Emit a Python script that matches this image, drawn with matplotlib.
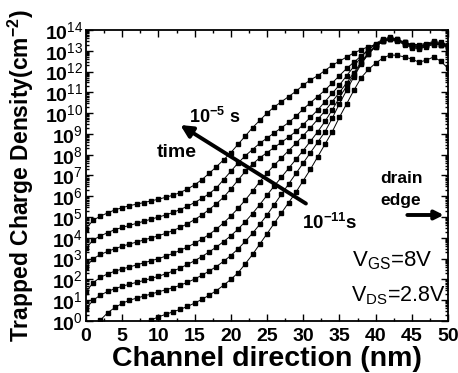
import numpy as np
import matplotlib
matplotlib.use("Agg")
import matplotlib.pyplot as plt
from matplotlib.ticker import FixedLocator, LogLocator, FuncFormatter, MultipleLocator, NullFormatter

plt.rcParams['font.family'] = ['Liberation Sans', 'DejaVu Sans']
plt.rcParams['mathtext.fontset'] = 'custom'
plt.rcParams['mathtext.rm'] = 'Liberation Sans'
plt.rcParams['mathtext.bf'] = 'Liberation Sans:bold'
plt.rcParams['mathtext.it'] = 'Liberation Sans:italic'

# log10 of trapped charge density, one point per nm along the channel
# each curve is one stress time, 1e-5 s (top) down to 1e-11 s
start_1e5 = 0
dens_1e5 = [4.45, 4.85, 5.05, 5.2, 5.35, 5.45, 5.55, 5.62, 5.7, 5.78,
            5.86, 5.95, 6.05, 6.18, 6.35, 6.55, 6.8, 7.1, 7.42, 7.75,
            8.1, 8.5, 8.9, 9.3, 9.65, 10.0, 10.3, 10.55, 10.8, 11.05,
            11.35, 11.6, 11.8, 12.05, 12.3, 12.5, 12.7, 12.9, 13.05, 13.2,
            13.3, 13.45, 13.55, 13.5, 13.35, 13.25, 13.2, 13.3, 13.35, 13.3, 13.2]

start_1e6 = 0
dens_1e6 = [3.5, 3.9, 4.1, 4.25, 4.4, 4.5, 4.6, 4.7, 4.8, 4.9,
            5.0, 5.1, 5.22, 5.36, 5.52, 5.7, 5.9, 6.12, 6.4, 6.8,
            7.2, 7.6, 7.95, 8.25, 8.55, 8.8, 9.05, 9.3, 9.55, 9.85,
            10.2, 10.5, 10.8, 11.1, 11.45, 11.8, 12.15, 12.45, 12.75, 13.05,
            13.3, 13.5, 13.6, 13.55, 13.4, 13.3, 13.25, 13.3, 13.4, 13.35, 13.25]

start_1e7 = 0
dens_1e7 = [2.6, 3.0, 3.2, 3.35, 3.48, 3.6, 3.7, 3.8, 3.9, 4.0,
            4.1, 4.22, 4.35, 4.5, 4.68, 4.88, 5.1, 5.36, 5.64, 5.95,
            6.35, 6.78, 7.2, 7.55, 7.85, 8.1, 8.35, 8.6, 8.85, 9.12,
            9.45, 9.8, 10.15, 10.55, 10.95, 11.35, 11.8, 12.25, 12.7, 13.05,
            13.35, 13.55, 13.65, 13.55, 13.4, 13.3, 13.3, 13.35, 13.45, 13.4, 13.3]

start_1e8 = 0
dens_1e8 = [1.4, 1.85, 2.1, 2.27, 2.4, 2.5, 2.6, 2.7, 2.8, 2.9,
            3.0, 3.12, 3.25, 3.4, 3.56, 3.74, 3.94, 4.16, 4.42, 4.72,
            5.05, 5.42, 5.82, 6.25, 6.7, 7.12, 7.5, 7.85, 8.2, 8.55,
            8.92, 9.3, 9.7, 10.1, 10.55, 11.0, 11.45, 11.95, 12.45, 12.9,
            13.25, 13.5, 13.6, 13.5, 13.4, 13.25, 13.2, 13.3, 13.4, 13.35, 13.25]

start_1e9 = 0
dens_1e9 = [0.6, 1.0, 1.25, 1.42, 1.56, 1.67, 1.77, 1.86, 1.95, 2.05,
            2.15, 2.27, 2.4, 2.55, 2.72, 2.9, 3.1, 3.32, 3.56, 3.82,
            4.1, 4.42, 4.78, 5.17, 5.6, 6.05, 6.5, 6.92, 7.35, 7.78,
            8.2, 8.65, 9.1, 9.6, 10.15, 10.75, 11.3, 11.85, 12.4, 12.85,
            13.2, 13.45, 13.55, 13.5, 13.35, 13.2, 13.15, 13.25, 13.35, 13.3, 13.2]

start_1e10 = 2
dens_1e10 = [0.05, 0.4, 0.65, 0.85, 1.0, 1.1, 1.2, 1.3,
             1.4, 1.5, 1.6, 1.72, 1.86, 2.02, 2.2, 2.4, 2.62, 2.87,
             3.15, 3.47, 3.83, 4.22, 4.65, 5.1, 5.6, 6.1, 6.6, 7.1,
             7.6, 8.1, 8.6, 9.1, 9.75, 10.45, 11.1, 11.75, 12.35, 12.85,
             13.2, 13.45, 13.55, 13.45, 13.3, 13.15, 13.1, 13.2, 13.3, 13.3, 13.15]

start_1e11 = 9
dens_1e11 = [0.05,
             0.2, 0.32, 0.44, 0.56, 0.7, 0.86, 1.04, 1.24, 1.46, 1.72,
             2.0, 2.32, 2.75, 3.2, 3.7, 4.2, 4.7, 5.2, 5.7, 6.2,
             6.75, 7.3, 7.9, 8.5, 9.1, 9.8, 10.45, 11.1, 11.7, 12.1,
             12.4, 12.65, 12.8, 12.78, 12.7, 12.6, 12.45, 12.55, 12.7, 12.5, 12.15]

curves = [(start_1e5, dens_1e5), (start_1e6, dens_1e6), (start_1e7, dens_1e7),
          (start_1e8, dens_1e8), (start_1e9, dens_1e9), (start_1e10, dens_1e10),
          (start_1e11, dens_1e11)]

x_ticks = [0, 5, 10, 15, 20, 25, 30, 35, 40, 45, 50]
y_decades = list(range(0, 15))

fig = plt.figure(figsize=(4.58, 3.73), dpi=100)
ax = fig.add_axes([0.1878, 0.1394, 0.7904, 0.7802])

for x0, d in curves:
    xs = np.arange(x0, x0 + len(d))
    ax.plot(xs, 10.0 ** np.array(d), color='k', lw=0.7, marker='s', ms=3.0,
            mec='k', mfc='k')

ax.set_yscale('log')
ax.set_xlim(0, 50)
ax.set_ylim(1, 1e14)

ax.xaxis.set_major_locator(FixedLocator(x_ticks))
ax.xaxis.set_minor_locator(MultipleLocator(2.5))
ax.yaxis.set_major_locator(FixedLocator([10.0 ** k for k in y_decades]))
ax.yaxis.set_major_formatter(FuncFormatter(
    lambda v, p: r'$\mathbf{10}^{\mathrm{%d}}$' % int(round(np.log10(v)))))
ax.yaxis.set_minor_locator(LogLocator(base=10, subs=np.arange(2, 10), numticks=100))
ax.yaxis.set_minor_formatter(NullFormatter())

ax.tick_params(which='both', direction='in', top=True, right=True, width=1.0)
ax.tick_params(which='major', length=5)
ax.tick_params(which='minor', length=2.5)
ax.tick_params(axis='x', labelsize=14, pad=5)
ax.tick_params(axis='y', labelsize=14, pad=2)
for lab in ax.get_xticklabels():
    lab.set_fontweight('bold')
for s in ax.spines.values():
    s.set_linewidth(1.3)

ax.set_xlabel('Channel direction (nm)', fontsize=20.5, fontweight='bold', labelpad=1)
ax.set_ylabel(r'Trapped Charge Density(cm$^{\mathbf{-2}}$)', fontsize=16.5,
              fontweight='bold')
ax.yaxis.set_label_coords(-0.138, 0.5)

# time arrow
ax.annotate('', xy=(12.7, 10 ** 9.5), xytext=(30.7, 10 ** 5.58),
            arrowprops=dict(arrowstyle='-|>', lw=2.8, color='k', mutation_scale=18))
ax.text(17.7, 10 ** 9.8, r'10$^{\mathbf{-5}}$ s', fontsize=13, fontweight='bold',
        ha='center', va='center')
ax.text(12.6, 10 ** 8.1, 'time', fontsize=14, fontweight='bold', ha='center', va='center')
ax.text(33.7, 10 ** 4.7, r'10$^{\mathbf{-11}}$s', fontsize=13.5, fontweight='bold',
        ha='center', va='center')

# drain edge marker
ax.text(43.6, 10 ** 6.85, 'drain', fontsize=12.5, fontweight='bold', ha='center', va='center')
ax.text(43.5, 10 ** 5.8, 'edge', fontsize=12.5, fontweight='bold', ha='center', va='center')
ax.annotate('', xy=(49.8, 10 ** 5.1), xytext=(44.0, 10 ** 5.1),
            arrowprops=dict(arrowstyle='-|>', lw=2.8, color='k', mutation_scale=13))

# bias conditions
ax.text(42.3, 10 ** 2.9, r'V$_{\mathrm{GS}}$=8V', fontsize=16, ha='center', va='center')
ax.text(43.2, 10 ** 1.2, r'V$_{\mathrm{DS}}$=2.8V', fontsize=15.5, ha='center', va='center')

fig.savefig('out.png', dpi=100)
